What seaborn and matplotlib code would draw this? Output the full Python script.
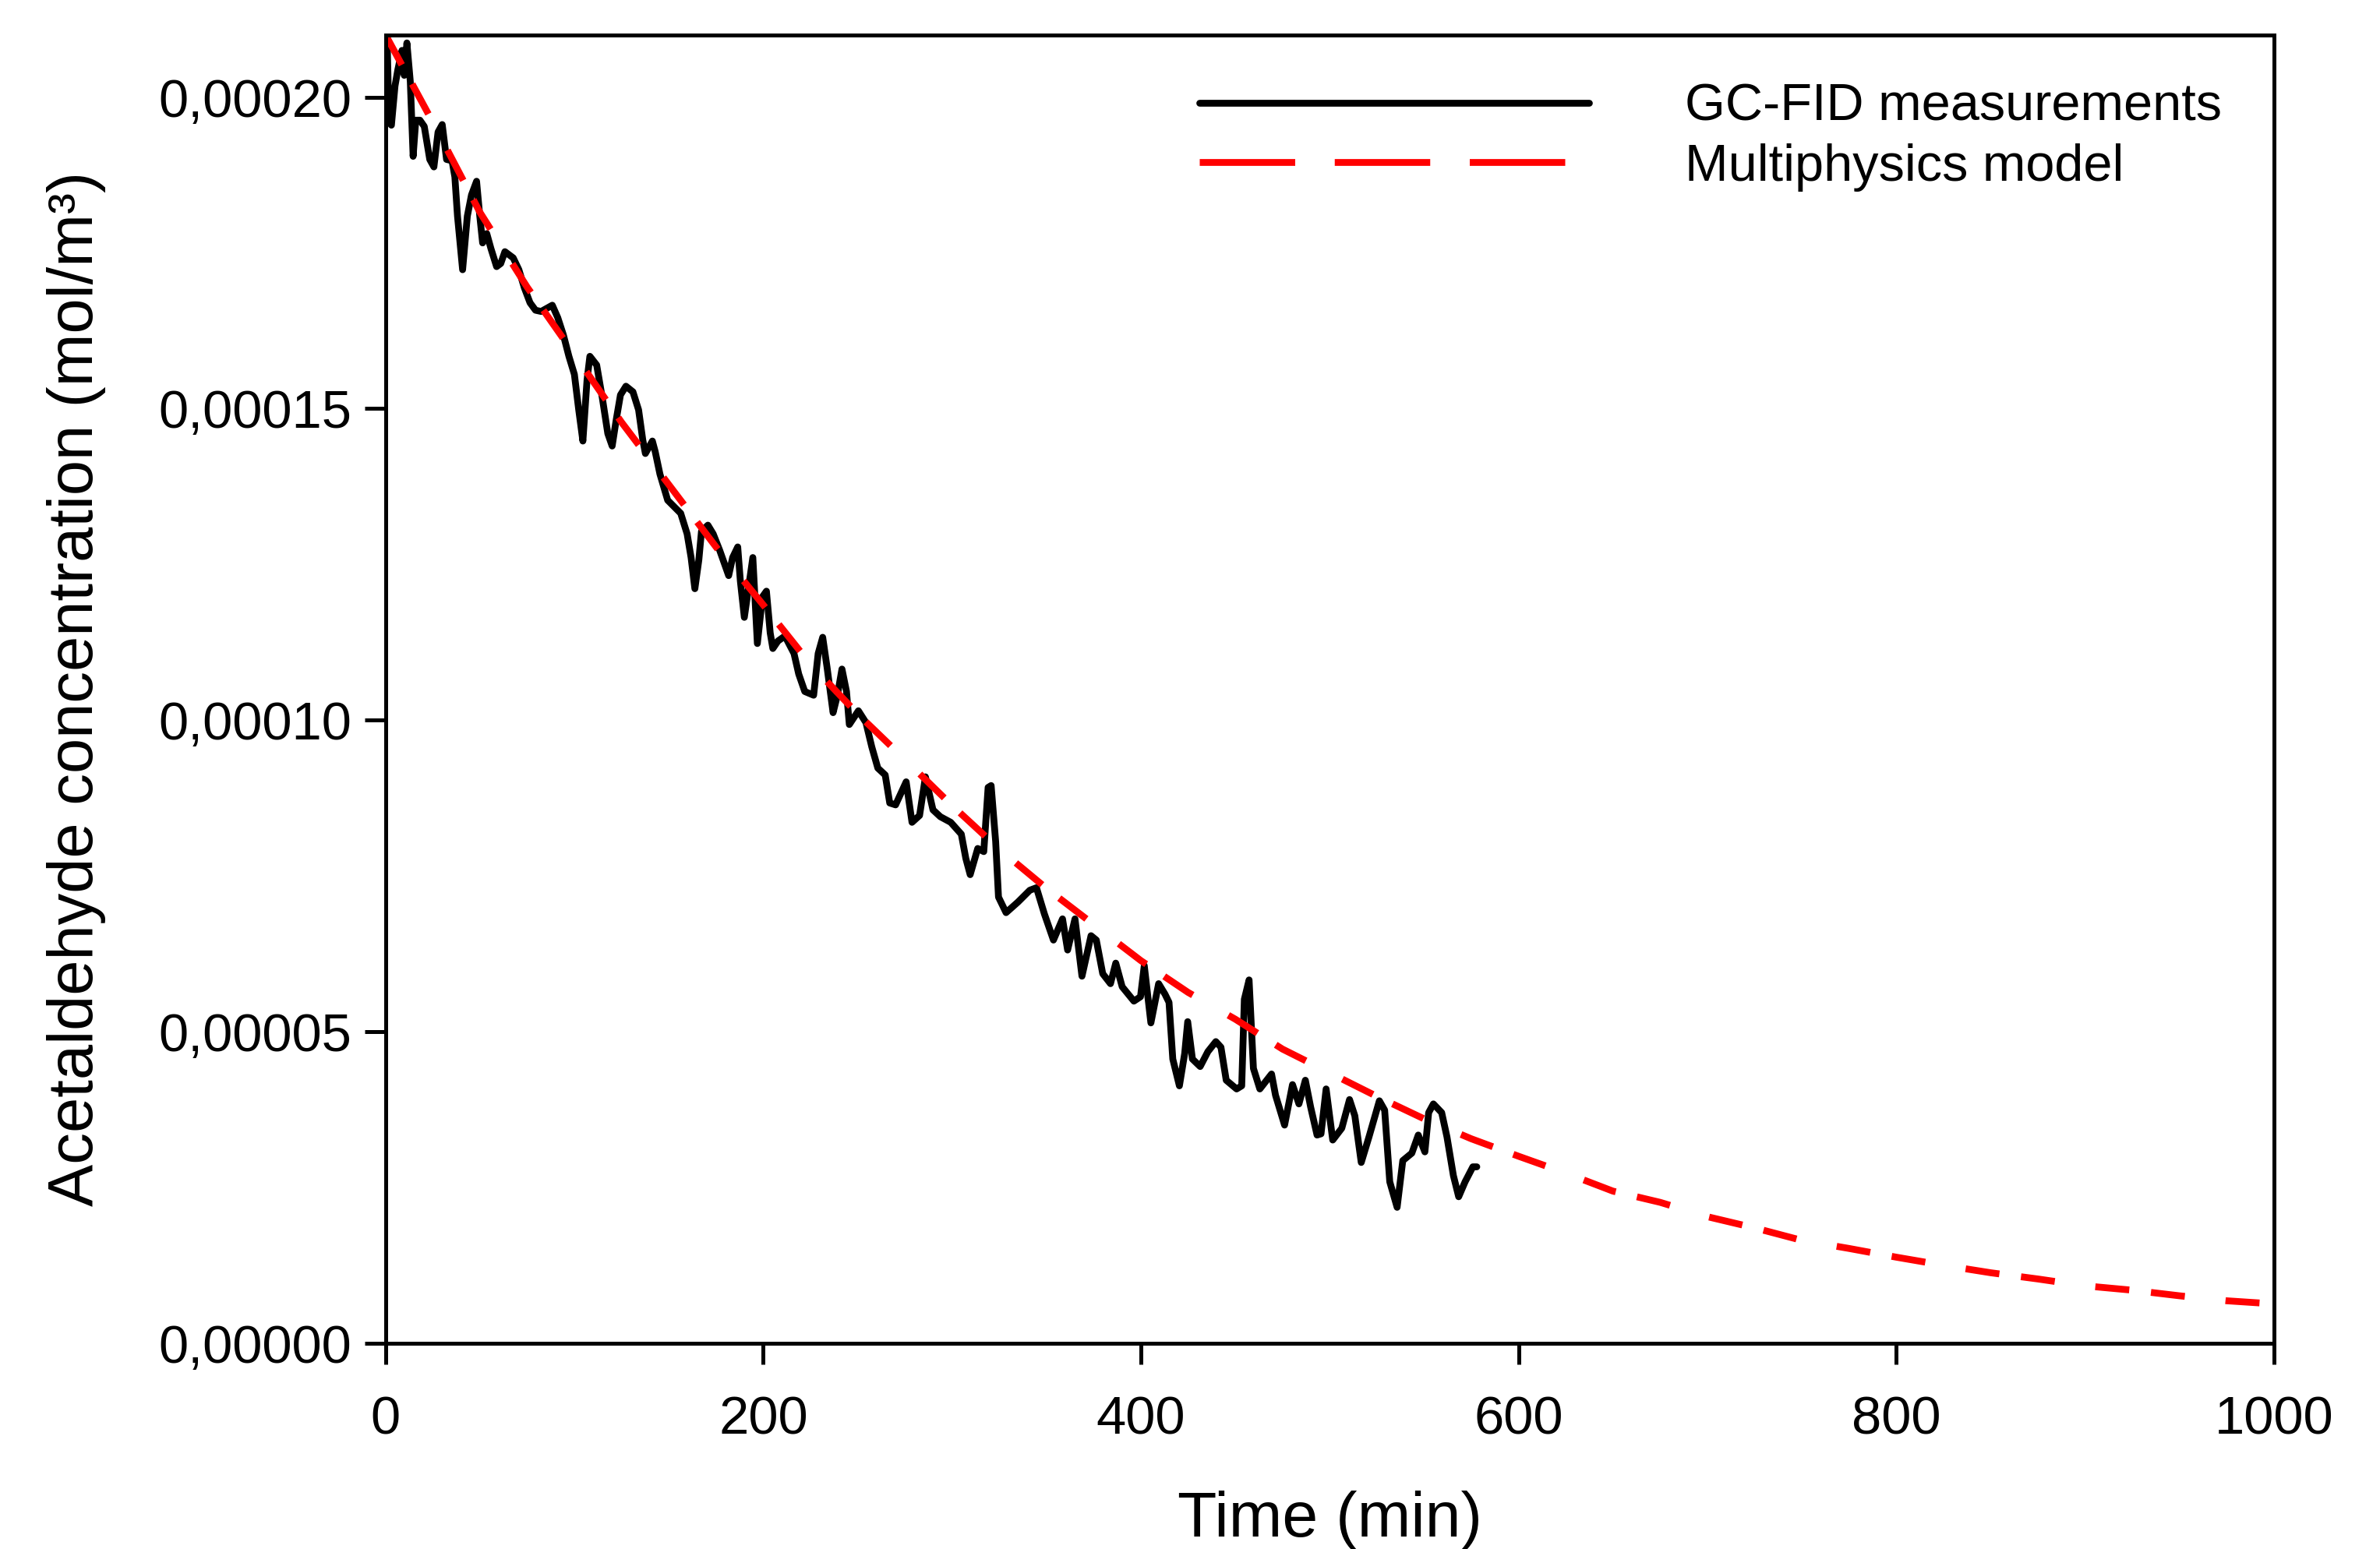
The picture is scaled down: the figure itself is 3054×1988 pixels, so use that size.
import numpy as np
import pandas as pd
import matplotlib
matplotlib.use('Agg')
import matplotlib.pyplot as plt
from matplotlib.lines import Line2D
import seaborn as sns

# GC-FID measurements (time in min, concentration in 1e-5 mol/m3)
time_meas = [0, 0.8, 1.8, 3.1, 5.0, 6.5, 8.7, 9.9, 11.3, 13.1, 14.6, 16.0, 18.2, 20.5,
             23.4, 25.6, 27.8, 30.0, 32.3, 35.2, 36.7, 38.1, 40.8, 43.3, 45.5, 48.2,
             49.9, 51.4, 53.6, 55.8, 58.8, 61.0, 63.2, 67.6, 70.6, 73.5, 76.5, 79.4,
             82.4, 88.3, 91.2, 94.2, 97.1, 100.0, 102.3, 104.5, 106.7, 108.2, 111.8,
             114.8, 117.7, 120.0, 122.2, 124.4, 127.3, 131.0, 134.0, 136.2, 137.6,
             141.3, 142.8, 145.3, 149.4, 156.3, 159.7, 161.8, 163.8, 165.9, 167.3,
             170.7, 173.5, 176.9, 181.7, 183.8, 186.5, 187.9, 190.0, 192.7, 194.5,
             196.9, 199.6, 201.7, 203.7, 205.1, 207.8, 211.5, 216.3, 218.8, 222.0,
             226.7, 229.1, 231.5, 233.8, 237.0, 239.3, 241.7, 244.1, 245.6, 250.4,
             254.4, 257.5, 260.7, 264.6, 267.0, 270.1, 275.7, 278.8, 282.8, 285.9,
             289.9, 293.8, 299.3, 304.9, 307.3, 309.6, 313.6, 316.8, 319.1, 320.7,
             323.1, 324.6, 328.6, 334.9, 341.2, 344.7, 348.9, 353.7, 358.5, 361.2,
             365.1, 368.8, 373.6, 376.4, 379.8, 383.9, 386.7, 390.1, 396.3, 399.8,
             401.8, 405.3, 409.4, 412.8, 414.9, 416.9, 420.4, 423.2, 424.8, 427.3,
             431.4, 435.5, 439.7, 442.4, 445.2, 450.7, 453.4, 454.8, 457.3, 459.6,
             463.0, 469.2, 471.3, 476.1, 480.3, 483.7, 487.1, 489.9, 493.3, 495.4,
             498.1, 501.6, 506.4, 510.5, 513.3, 516.7, 520.8, 526.3, 529.1, 531.8,
             535.7, 538.7, 543.5, 546.9, 550.4, 552.4, 554.9, 559.3, 562.1, 565.5,
             568.3, 571.7, 575.8, 577.9]
conc_meas = [20.2, 21.0, 19.6, 19.55, 20.18, 20.44, 20.75, 20.35, 20.87, 20.25, 19.05,
             19.63, 19.63, 19.53, 19.00, 18.88, 19.44, 19.56, 19.00, 18.98, 18.72,
             18.09, 17.23, 18.09, 18.43, 18.65, 18.09, 17.66, 17.81, 17.57, 17.28,
             17.33, 17.52, 17.42, 17.23, 16.94, 16.70, 16.58, 16.56, 16.66, 16.46,
             16.18, 15.84, 15.55, 14.98, 14.48, 15.46, 15.84, 15.70, 15.17, 14.60,
             14.40, 14.83, 15.22, 15.36, 15.27, 14.98, 14.50, 14.28, 14.48, 14.31,
             13.95, 13.53, 13.32, 12.99, 12.61, 12.11, 12.57, 13.03, 13.13, 12.99,
             12.73, 12.32, 12.61, 12.78, 12.23, 11.65, 12.23, 12.61, 11.23, 11.98,
             12.07, 11.40, 11.15, 11.27, 11.35, 11.07, 10.74, 10.46, 10.40, 11.07,
             11.33, 10.85, 10.12, 10.40, 10.82, 10.46, 9.93, 10.15, 9.96, 9.57, 9.23,
             9.12, 8.67, 8.64, 9.01, 8.36, 8.47, 9.09, 8.56, 8.45, 8.36, 8.17, 7.78,
             7.52, 7.94, 7.89, 8.92, 8.95, 8.05, 7.16, 6.91, 7.08, 7.27, 7.31, 6.89,
             6.47, 6.81, 6.31, 6.81, 5.89, 6.54, 6.47, 5.93, 5.77, 6.10, 5.72, 5.49,
             5.56, 6.06, 5.14, 5.77, 5.60, 5.47, 4.56, 4.13, 4.65, 5.16, 4.56, 4.44,
             4.68, 4.84, 4.75, 4.22, 4.08, 4.13, 5.52, 5.83, 4.41, 4.08, 4.32, 3.98,
             3.50, 4.15, 3.84, 4.22, 3.79, 3.34, 3.36, 4.08, 3.26, 3.45, 3.91, 3.65,
             2.90, 3.31, 3.89, 3.74, 2.59, 2.18, 2.93, 3.05, 3.34, 3.07, 3.70, 3.84,
             3.70, 3.31, 2.69, 2.35, 2.59, 2.83, 2.83]

# Multiphysics model (time in min, concentration in 1e-5 mol/m3)
time_model = [0, 25, 50, 75, 100, 125, 150, 175, 200, 225, 250, 275, 300, 325, 350,
              375, 400, 425, 450, 475, 500, 525, 550, 575, 600, 625, 650, 675, 700,
              725, 750, 775, 800, 825, 850, 875, 900, 925, 950, 975, 1000]
conc_model = [21.0, 19.6, 18.15, 16.95, 15.87, 14.78, 13.78, 12.78, 11.85, 10.9, 10.1,
              9.37, 8.63, 7.93, 7.30, 6.72, 6.14, 5.63, 5.20, 4.72, 4.34, 3.96, 3.60,
              3.28, 3.00, 2.73, 2.44, 2.26, 2.03, 1.85, 1.65, 1.52, 1.38, 1.25, 1.13,
              1.03, 0.92, 0.85, 0.76, 0.68, 0.63]

x_ticks = [0, 200, 400, 600, 800, 1000]
y_ticks = [0, 5e-5, 1e-4, 1.5e-4, 2e-4]
y_ticklabels = ['0,00000', '0,00005', '0,00010', '0,00015', '0,00020']

meas = pd.DataFrame({'Time': time_meas, 'Conc': np.array(conc_meas) * 1e-5})
model = pd.DataFrame({'Time': time_model, 'Conc': np.array(conc_model) * 1e-5})

sns.set_style("white")
plt.rcParams['font.family'] = ['Liberation Sans', 'DejaVu Sans']
plt.rcParams['text.color'] = 'black'
plt.rcParams['axes.labelcolor'] = 'black'
plt.rcParams['xtick.color'] = 'black'
plt.rcParams['ytick.color'] = 'black'

fig = plt.figure(figsize=(10.18, 6.6267), dpi=300)
ax = fig.add_axes([0.162, 0.1329, 0.7934, 0.8446])

lw = 2.1
sns.lineplot(data=meas, x='Time', y='Conc', ax=ax, color='black', lw=lw, sort=False)
sns.lineplot(data=model, x='Time', y='Conc', ax=ax, color='#ff0000', lw=lw,
             linestyle=(0, (5.0, 3.2, 5.0, 6.0)))

ax.set_xlim(0, 1000)
ax.set_ylim(0, 0.00021)
ax.set_xticks(x_ticks)
ax.set_xticklabels([str(v) for v in x_ticks])
ax.set_yticks(y_ticks)
ax.set_yticklabels(y_ticklabels)

for s in ax.spines.values():
    s.set_color('black')
    s.set_linewidth(1.2)
ax.tick_params(axis='both', which='major', direction='out', length=6.5, width=1.2,
               colors='black', labelsize=16.5, bottom=True, left=True, top=False, right=False)
ax.tick_params(axis='x', pad=9.5)
ax.tick_params(axis='y', pad=4)

ax.set_xlabel('Time (min)', fontsize=19.8, labelpad=14)
ax.set_ylabel('Acetaldehyde concentration (mol/m³)', fontsize=19.5, labelpad=16)

handles = [Line2D([0], [0], color='black', lw=lw),
           Line2D([0], [0], color='#ff0000', lw=lw, linestyle=(0, (14.0, 5.8)))]
ax.legend(handles, ['GC-FID measurements', 'Multiphysics model'], loc='upper left',
          bbox_to_anchor=(0.431, 0.963), frameon=False, fontsize=16, handlelength=7.5,
          handletextpad=1.85, borderpad=0, borderaxespad=0, labelspacing=0.22)

plt.savefig('out.png', dpi=300)
